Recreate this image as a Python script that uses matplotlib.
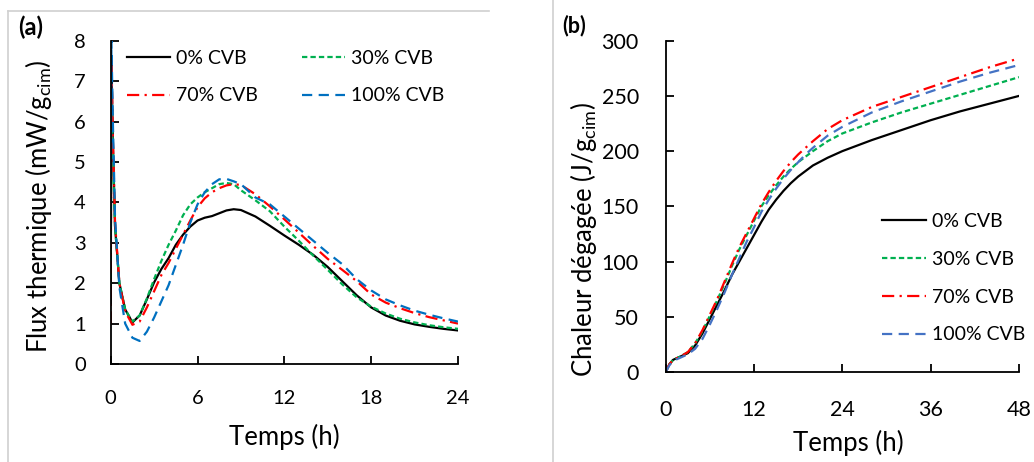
import matplotlib
matplotlib.use("Agg")
import matplotlib.pyplot as plt
from matplotlib.lines import Line2D

plt.rcParams['font.family'] = ['Lato', 'DejaVu Sans']
plt.rcParams['mathtext.fontset'] = 'custom'
plt.rcParams['mathtext.rm'] = 'Lato'

# ---------------- data (a): heat flow ----------------
t_flux = [0, 0.05, 0.15, 0.3, 0.6, 1.0, 1.5, 2, 2.5, 3, 3.5, 4, 4.5, 5, 5.5, 6, 6.5, 7, 7.5,
          8, 8.5, 9, 10, 11, 12, 13, 14, 15, 16, 17, 18, 19, 20, 21, 22, 23, 24]
flux_0 = [1.5, 7.5, 5.5, 3.4, 2.0, 1.35, 1.03, 1.2, 1.6, 2.02, 2.35, 2.62, 2.95, 3.2, 3.4, 3.55,
          3.62, 3.66, 3.73, 3.8, 3.83, 3.81, 3.65, 3.42, 3.18, 2.95, 2.7, 2.4, 2.05, 1.7, 1.4,
          1.2, 1.07, 0.98, 0.92, 0.87, 0.83]
flux_30 = [1.7, 6.8, 5.3, 3.4, 2.0, 1.35, 1.05, 1.2, 1.62, 2.1, 2.55, 2.95, 3.3, 3.68, 3.95,
           4.12, 4.25, 4.35, 4.45, 4.48, 4.45, 4.3, 4.05, 3.78, 3.4, 3.05, 2.68, 2.33, 1.97,
           1.65, 1.42, 1.25, 1.12, 1.03, 0.96, 0.91, 0.87]
flux_70 = [1.0, 7.6, 5.6, 3.5, 2.0, 1.3, 0.97, 1.05, 1.4, 1.8, 2.2, 2.5, 2.85, 3.2, 3.55,
           3.88, 4.1, 4.25, 4.35, 4.42, 4.45, 4.43, 4.2, 3.9, 3.58, 3.25, 2.92, 2.6, 2.33,
           2.05, 1.72, 1.52, 1.38, 1.26, 1.16, 1.08, 1.0]
flux_100 = [3.0, 8.0, 6.0, 3.6, 1.9, 1.0, 0.65, 0.57, 0.8, 1.15, 1.55, 1.95, 2.45, 2.95, 3.5,
            3.95, 4.25, 4.45, 4.57, 4.58, 4.52, 4.45, 4.12, 3.95, 3.65, 3.35, 3.05, 2.75, 2.47,
            2.1, 1.82, 1.6, 1.45, 1.32, 1.22, 1.13, 1.05]

# ---------------- data (b): cumulative heat ----------------
t_heat = [0, 0.5, 1, 2, 3, 4, 5, 6, 7, 8, 9, 10, 11, 12, 13, 14, 15, 16, 17, 18, 19, 20, 22,
          24, 28, 32, 36, 40, 44, 48]
heat_0 = [0, 7, 11, 14, 17, 24, 35, 48, 61, 74, 88, 100, 112, 124, 136, 147, 156, 164, 171,
          177, 182, 187, 194, 200, 210, 219, 228, 236, 243, 250]
heat_30 = [0, 7, 11, 14, 18, 26, 37, 51, 65, 80, 96, 111, 124, 137, 150, 160, 169, 177, 184,
           190, 195, 200, 209, 216, 226, 235, 243, 251, 259, 267]
heat_70 = [0, 7, 11, 14, 18, 26, 38, 52, 66, 82, 98, 113, 126, 139, 152, 163, 173, 182, 190,
           197, 203, 209, 220, 228, 240, 249, 258, 267, 276, 284]
heat_100 = [0, 6, 10, 13, 16, 21, 30, 43, 57, 72, 88, 103, 118, 131, 145, 156, 166, 175, 183,
            190, 197, 203, 214, 222, 235, 245, 254, 263, 271, 278]

labels = ['0% CVB', '30% CVB', '70% CVB', '100% CVB']

W, H = 1034, 462
fig = plt.figure(figsize=(W / 100, H / 100), dpi=100)

def fx(px):
    return px / W

def fy(py):
    return 1 - py / H

axA = fig.add_axes([fx(110.7), fy(364), fx(458) - fx(110.7), fy(40.7) - fy(364)])
axB = fig.add_axes([fx(665.7), fy(372), fx(1019) - fx(665.7), fy(40.7) - fy(372)])

lw = 1.6
stA = dict(
    black=dict(color='black', lw=lw, ls='-'),
    green=dict(color='#00B050', lw=lw, ls=(0, (2.4, 1.4))),
    red=dict(color='#FF0000', lw=lw, ls=(0, (5.5, 2.4, 1.0, 2.4))),
    blue=dict(color='#0070C0', lw=lw, ls=(0, (4.6, 2.9))),
)

l0, = axA.plot(t_flux, flux_0, **stA['black'], label=labels[0])
l30, = axA.plot(t_flux, flux_30, **stA['green'], label=labels[1])
l70, = axA.plot(t_flux, flux_70, **stA['red'], label=labels[2])
l100, = axA.plot(t_flux, flux_100, **stA['blue'], label=labels[3])

axA.set_xlim(0, 24)
axA.set_ylim(0, 8)
axA.set_xticks([0, 6, 12, 18, 24])
axA.set_yticks(range(0, 9))

stB_blue = dict(color='#4472C4', lw=lw, ls=(0, (4.6, 2.9)))
m0, = axB.plot(t_heat, heat_0, **stA['black'], label=labels[0])
m30, = axB.plot(t_heat, heat_30, **stA['green'], label=labels[1])
m70, = axB.plot(t_heat, heat_70, **stA['red'], label=labels[2])
m100, = axB.plot(t_heat, heat_100, **stB_blue, label=labels[3])

axB.set_xlim(0, 48)
axB.set_ylim(0, 300)
axB.set_xticks([0, 12, 24, 36, 48])
axB.set_yticks(range(0, 301, 50))

for ax, xpad, ypad, fs in [(axA, 18.5, 18, 14.5), (axB, 20, 19.4, 15.5)]:
    for s in ['top', 'right']:
        ax.spines[s].set_visible(False)
    for s in ['left', 'bottom']:
        ax.spines[s].set_linewidth(1.3)
        ax.spines[s].set_color('black')
    ax.tick_params(axis='both', direction='in', length=6, width=1.3, labelsize=fs)
    ax.tick_params(axis='x', pad=xpad)
    ax.tick_params(axis='y', pad=ypad)
    for sp in ax.spines.values():
        sp.set_zorder(3)
    ax.patch.set_alpha(0)

axA.set_xlabel('Temps (h)', fontsize=18.5, va='center')
axA.xaxis.set_label_coords(0.499, -0.226)
axA.set_ylabel('Flux thermique (mW/g$_{\\mathregular{cim}}$)', fontsize=18.5, va='center')
axA.yaxis.set_label_coords(-0.209, 0.487)

axB.set_xlabel('Temps (h)', fontsize=18.5, va='center')
axB.xaxis.set_label_coords(0.516, -0.214)
axB.set_ylabel('Chaleur dégagée (J/g$_{\\mathregular{cim}}$)', fontsize=18.5, va='center')
axB.yaxis.set_label_coords(-0.234, 0.40)

legA = axA.legend([l0, l70, l30, l100], [labels[0], labels[2], labels[1], labels[3]],
                  ncol=2, loc='upper left', bbox_to_anchor=(0.047, 0.971),
                  frameon=False, fontsize=14, handlelength=2.2, handletextpad=0.3,
                  columnspacing=2.3, labelspacing=1.05, borderpad=0, borderaxespad=0)

legB = axB.legend([m0, m30, m70, m100], labels, loc='upper left',
                  bbox_to_anchor=(0.612, 0.48), frameon=False, fontsize=14,
                  handlelength=2.25, handletextpad=0.3, labelspacing=1.07,
                  borderpad=0, borderaxespad=0)

fig.text(fx(18), fy(27), '(a)', fontsize=17, fontweight='bold', va='center', ha='left')
fig.text(fx(562), fy(26), '(b)', fontsize=15.5, fontweight='bold', va='center', ha='left')

gray = '#d0d0d0'
fig.add_artist(Line2D([fx(8), fx(489)], [fy(11), fy(11)], color=gray, lw=1.2))
fig.add_artist(Line2D([fx(8), fx(8)], [fy(11), fy(462)], color=gray, lw=1.2))
fig.add_artist(Line2D([fx(553), fx(553)], [fy(0), fy(462)], color=gray, lw=1.2))

fig.savefig('out.png', dpi=100)
